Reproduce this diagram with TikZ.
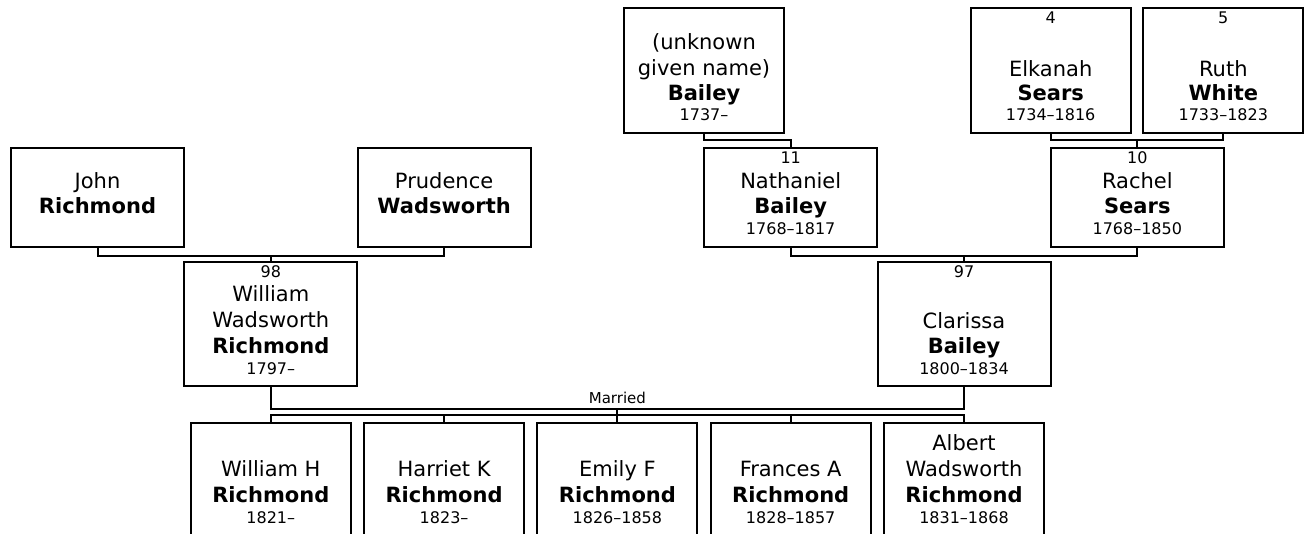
\documentclass[tikz,border=0pt]{standalone}
\usepackage{fontspec}
\setmainfont{DejaVu Sans}
\begin{document}
\begin{tikzpicture}[x=1pt,y=-1pt,
  box/.style={draw, line width=2pt, rectangle, inner sep=0pt, anchor=north},
  wide/.style={box, minimum width=173pt},
  narrow/.style={box, minimum width=160pt},
  nm/.style={font=\fontsize{21}{25}\selectfont, anchor=base, inner sep=0pt},
  sn/.style={font=\fontsize{21}{25}\selectfont\bfseries, anchor=base, inner sep=0pt},
  sm/.style={font=\fontsize{16}{19}\selectfont, anchor=base, inner sep=0pt},
  conn/.style={draw, line width=2pt}]
\useasboundingbox (0,0) rectangle (1304,533);

% ---------- top row (T=7, h=125)
\node[narrow, minimum height=125pt] (unk) at (704,7) {};
\node[nm] (unk-1) at (704,49) {(unknown};
\node[nm] (unk-2) at (704,75) {given name)};
\node[sn] (unk-3) at (704,100) {Bailey};
\node[sm] (unk-4) at (704,120.5) {1737–};

\node[narrow, minimum height=125pt] (elk) at (1050.7,7) {};
\node[sm] (elk-0) at (1050.7,23.5) {4};
\node[nm] (elk-2) at (1050.7,76) {Elkanah};
\node[sn] (elk-3) at (1050.7,100) {Sears};
\node[sm] (elk-4) at (1050.7,120.5) {1734–1816};

\node[narrow, minimum height=125pt] (ruth) at (1223.3,7) {};
\node[sm] (ruth-0) at (1223.3,23.5) {5};
\node[nm] (ruth-2) at (1223.3,76) {Ruth};
\node[sn] (ruth-3) at (1223.3,100) {White};
\node[sm] (ruth-4) at (1223.3,120.5) {1733–1823};

% ---------- second row (T=147, h=99)
\node[wide, minimum height=99pt] (john) at (97.5,147) {};
\node[nm] (john-2) at (97.5,188) {John};
\node[sn] (john-3) at (97.5,213.5) {Richmond};

\node[wide, minimum height=99pt] (prud) at (444.1,147) {};
\node[nm] (prud-2) at (444.1,188) {Prudence};
\node[sn] (prud-3) at (444.1,213.5) {Wadsworth};

\node[wide, minimum height=99pt] (nath) at (790.7,147) {};
\node[sm] (nath-0) at (790.7,163.5) {11};
\node[nm] (nath-2) at (790.7,188) {Nathaniel};
\node[sn] (nath-3) at (790.7,213.5) {Bailey};
\node[sm] (nath-4) at (790.7,234.5) {1768–1817};

\node[wide, minimum height=99pt] (rach) at (1137.3,147) {};
\node[sm] (rach-0) at (1137.3,163.5) {10};
\node[nm] (rach-2) at (1137.3,188) {Rachel};
\node[sn] (rach-3) at (1137.3,213.5) {Sears};
\node[sm] (rach-4) at (1137.3,234.5) {1768–1850};

% ---------- third row (T=261, h=124)
\node[wide, minimum height=124pt] (will) at (270.8,261) {};
\node[sm] (will-0) at (270.8,277.5) {98};
\node[nm] (will-1) at (270.8,301.5) {William};
\node[nm] (will-2) at (270.8,327.5) {Wadsworth};
\node[sn] (will-3) at (270.8,353.5) {Richmond};
\node[sm] (will-4) at (270.8,374.5) {1797–};

\node[wide, minimum height=124pt] (clar) at (964,261) {};
\node[sm] (clar-0) at (964,277.5) {97};
\node[nm] (clar-2) at (964,328.5) {Clarissa};
\node[sn] (clar-3) at (964,353.5) {Bailey};
\node[sm] (clar-4) at (964,374.5) {1800–1834};

% ---------- children (T=422)
\node[narrow, minimum height=140pt] (ch1) at (270.8,422) {};
\node[nm] (ch1-2) at (270.8,476.5) {William H};
\node[sn] (ch1-3) at (270.8,502) {Richmond};
\node[sm] (ch1-4) at (270.8,523) {1821–};

\node[narrow, minimum height=140pt] (ch2) at (444.1,422) {};
\node[nm] (ch2-2) at (444.1,476.5) {Harriet K};
\node[sn] (ch2-3) at (444.1,502) {Richmond};
\node[sm] (ch2-4) at (444.1,523) {1823–};

\node[narrow, minimum height=140pt] (ch3) at (617.4,422) {};
\node[nm] (ch3-2) at (617.4,476.5) {Emily F};
\node[sn] (ch3-3) at (617.4,502) {Richmond};
\node[sm] (ch3-4) at (617.4,523) {1826–1858};

\node[narrow, minimum height=140pt] (ch4) at (790.7,422) {};
\node[nm] (ch4-2) at (790.7,476.5) {Frances A};
\node[sn] (ch4-3) at (790.7,502) {Richmond};
\node[sm] (ch4-4) at (790.7,523) {1828–1857};

\node[narrow, minimum height=140pt] (ch5) at (964,422) {};
\node[nm] (ch5-1) at (964,450.5) {Albert};
\node[nm] (ch5-2) at (964,476.5) {Wadsworth};
\node[sn] (ch5-3) at (964,502) {Richmond};
\node[sm] (ch5-4) at (964,523) {1831–1868};

% ---------- connectors
\draw[conn] (unk.south) -- ++(0,6) -| (nath.north);
\draw[conn] (elk.south) -- ++(0,6) coordinate (er) -| (ruth.south);
\draw[conn] (rach.north) -- (rach.north |- er);

\draw[conn] (john.south) -- ++(0,7.5) coordinate (jp) -| (prud.south);
\draw[conn] (will.north) -- (will.north |- jp);

\draw[conn] (nath.south) -- ++(0,7.5) coordinate (nr) -| (rach.south);
\draw[conn] (clar.north) -- (clar.north |- nr);

\draw[conn] (will.south) -- ++(0,22) coordinate (m) -| (clar.south);
\node[sm, font=\fontsize{15}{18}\selectfont] (married) at (617.4,403) {Married};
\draw[conn] (ch3.north) -- (ch3.north |- m);
\draw[conn] (ch1.north) -- ++(0,-7) coordinate (bus) -| (ch5.north);
\draw[conn] (ch2.north) -- (ch2.north |- bus);
\draw[conn] (ch4.north) -- (ch4.north |- bus);
\end{tikzpicture}
\end{document}
